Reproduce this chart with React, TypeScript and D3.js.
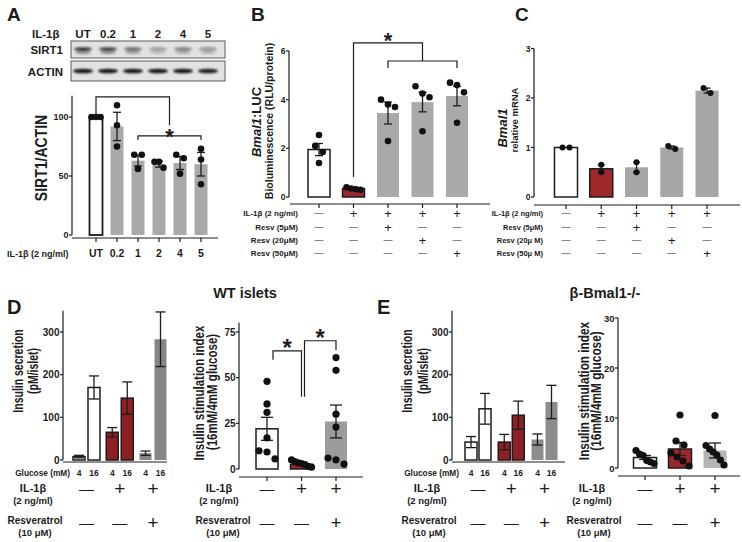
import React from "react";
import * as d3 from "d3";

const F = "'Liberation Sans', Arial, Helvetica, sans-serif";
const INK = "#1c1c1c";
const RED = "#a0282b";
const RED_D = "#8f1f22";
const GA = "#a9a9ab";
const GC = "#a6a6a9";
const GD = "#868686";
const GD2 = "#9c9c9c";
const GE = "#8c8c8c";
const GE2 = "#b4b4b4";

// ---------- Panel A ----------
const aLanes = ["UT", "0.2", "1", "2", "4", "5"];
const aMeans = [100, 92, 63, 60, 61, 60];
const aSem = [0, 12, 4.5, 2.5, 5.5, 10];
const aDots = [[100, 100, 100], [110, 93, 75], [68, 68, 56], [62, 62, 57], [68, 65, 52], [73, 64, 43]];
const aTicks = [0, 50, 100];
const aSirt1Band = [1, 0.95, 0.7, 0.42, 0.58, 0.48];
const aActinBand = [1, 1, 1, 1, 1, 0.97];

// ---------- Panel B ----------
const bGroups = ["b1", "b2", "b3", "b4", "b5"];
const bMeans = [1.95, 0.35, 3.45, 3.9, 4.15];
const bSem = [0.25, 0.05, 0.45, 0.4, 0.4];
const bDots = [[2.55, 2.1, 1.85, 1.4], [0.3, 0.35, 0.4, 0.32], [3.8, 4.0, 3.7, 2.3], [4.55, 4.25, 4.1, 2.7], [4.7, 4.6, 4.3, 3.05]];
const bTicks = [0, 2, 4, 6];
const bRowLabels = ["IL-1β (2 ng/ml)", "Resv (5μM)", "Resv (20μM)", "Resv (50μM)"];
const condMatrix = [[0, 1, 1, 1, 1], [0, 0, 1, 0, 0], [0, 0, 0, 1, 0], [0, 0, 0, 0, 1]];

// ---------- Panel C ----------
const cMeans = [1.0, 0.57, 0.6, 1.0, 2.15];
const cSem = [0, 0.08, 0.1, 0.03, 0.05];
const cDots = [[1, 1], [0.5, 0.65], [0.5, 0.7], [0.97, 1.03], [2.1, 2.2]];
const cTicks = [0, 1, 2, 3];
const cRowLabels = ["IL-1β (2 ng/ml)", "Resv (5μM)", "Resv (20μ M)", "Resv (50μ M)"];

// ---------- Panels D / E ----------
const treatGroups = ["ctrl", "il1b", "il1bResv"];
const glucose = ["4", "16"];
const il1bRow = [0, 1, 1];
const resvRow = [0, 0, 1];
const secTicks = [0, 100, 200, 300];
const dSecMeans = [8, 170, 65, 145, 16, 283];
const dSecSem = [3, 27, 11, 38, 5, 64];
const eSecMeans = [42, 120, 42, 105, 48, 136];
const eSecSem = [13, 36, 18, 33, 13, 39];
const dSiMeans = [22, 2.5, 26];
const dSiSem = [6.3, 0.6, 9];
const dSiDots = [[48, 35.6, 31, 17, 10, 9.3, 5.5], [5, 4, 3.4, 3, 2.4, 1.5, 1], [61, 54, 30, 23, 6, 5, 2.7]];
const dSiTicks = [0, 25, 50, 75];
const eSiMeans = [2.1, 3.8, 3.5];
const eSiSem = [0.4, 1.3, 1.5];
const eSiDots = [[3.5, 2.8, 2.5, 1.5, 1.2, 0.9], [10.6, 5.4, 4.6, 3, 2.2, 1.4, 0.4], [10.5, 4.5, 3.8, 3.2, 2.6, 1.6, 0.6]];
const eSiTicks = [0, 10, 20, 30];

type Sc = d3.ScaleLinear<number, number>;

function swarm(vals: number[], y: Sc, minD: number, spread: number) {
  const idx = vals.map((_, i) => i).sort((a, b) => vals[b] - vals[a]);
  const rows: number[][] = [];
  let cur: number[] = [];
  idx.forEach((i, k) => {
    if (k === 0) { cur = [i]; return; }
    const prev = cur[cur.length - 1];
    if (Math.abs(y(vals[i]) - y(vals[prev])) < minD) cur.push(i);
    else { rows.push(cur); cur = [i]; }
  });
  if (cur.length) rows.push(cur);
  const dx = new Array(vals.length).fill(0);
  rows.forEach(row => {
    const k = row.length;
    const s = k > 1 ? Math.min(minD, spread / (k - 1)) : 0;
    row.forEach((i, j) => { dx[i] = (j - (k - 1) / 2) * s; });
  });
  return dx;
}

function VText({ x, y, size, sx = 1, weight = 700, children }: any) {
  return (
    <text transform={`translate(${x},${y}) rotate(-90) scale(1,${sx})`} textAnchor="middle"
      dominantBaseline="central" fontSize={size} fontWeight={weight} fill={INK}>{children}</text>
  );
}

function YAxis({ x, y, ticks, top, fs, tl = 3 }: any) {
  return (
    <g>
      <line x1={x} x2={x} y1={y(0)} y2={y(top)} stroke={INK} strokeWidth={1.2} />
      {ticks.map((t: number) => (
        <g key={t}>
          <line x1={x - tl} x2={x} y1={y(t)} y2={y(t)} stroke={INK} strokeWidth={1.2} />
          <text x={x - tl - 0.5} y={y(t)} textAnchor="end" dominantBaseline="central" fontSize={fs} fontWeight={700} fill={INK}>{t}</text>
        </g>
      ))}
    </g>
  );
}

function Bars({ xs, means, sems, fills, strokes, w, y, cap, sw = 1.5 }: any) {
  return (
    <g>
      {xs.map((cx: number, i: number) => (
        <rect key={"r" + i} x={cx - w / 2} y={y(means[i])} width={w} height={y(0) - y(means[i])}
          fill={fills[i]} stroke={strokes[i]} strokeWidth={strokes[i] === "none" ? 0 : sw} />
      ))}
      {xs.map((cx: number, i: number) => sems[i] > 0 ? (
        <g key={"e" + i} stroke={INK} strokeWidth={1.3}>
          <line x1={cx} x2={cx} y1={y(means[i] - sems[i])} y2={y(means[i] + sems[i])} />
          <line x1={cx - cap / 2} x2={cx + cap / 2} y1={y(means[i] - sems[i])} y2={y(means[i] - sems[i])} />
          <line x1={cx - cap / 2} x2={cx + cap / 2} y1={y(means[i] + sems[i])} y2={y(means[i] + sems[i])} />
        </g>
      ) : null)}
    </g>
  );
}

function Dots({ xs, dots, y, r, minD, spread }: any) {
  return (
    <g>
      {xs.map((cx: number, i: number) => {
        const dx = swarm(dots[i], y, minD, spread);
        return dots[i].map((v: number, j: number) => (
          <circle key={i + "-" + j} cx={cx + dx[j]} cy={y(v)} r={r} fill="#111" />
        ));
      })}
    </g>
  );
}

function Sym({ x, y, on, dash, plus }: any) {
  return on ? (
    <text x={x} y={y} textAnchor="middle" dominantBaseline="central" fontSize={plus} fontWeight={400} fill={INK}>+</text>
  ) : (
    <text x={x} y={y} textAnchor="middle" dominantBaseline="central" fontSize={dash} fontWeight={400} fill={INK}>—</text>
  );
}

function Star({ x, cy, size }: any) {
  return <text x={x} y={cy + size * 0.57} textAnchor="middle" fontSize={size} fontWeight={700} fill={INK}>*</text>;
}

export default function App() {
  // ---- A ----
  const xA = d3.scalePoint<string>().domain(aLanes).range([96, 201]);
  const laneA = d3.scalePoint<string>().domain(aLanes).range([83, 208]);
  const yA = d3.scaleLinear().domain([0, 100]).range([235, 117]);
  const xsA = aLanes.map(l => xA(l) as number);

  // ---- B ----
  const xB = d3.scalePoint<string>().domain(bGroups).range([319, 457]);
  const yB = d3.scaleLinear().domain([0, 6]).range([197, 51]);
  const xsB = bGroups.map(g => xB(g) as number);

  // ---- C ----
  const xC = d3.scalePoint<string>().domain(bGroups).range([566, 707]);
  const yC = d3.scaleLinear().domain([0, 3]).range([197, 48.5]);
  const xsC = bGroups.map(g => xC(g) as number);
  const rowYs = [213, 227, 240, 253];

  // ---- D ----
  const gD = d3.scalePoint<string>().domain(treatGroups).range([86.5, 153]);
  const gcD = treatGroups.map(g => gD(g) as number);
  const xsDs = gcD.flatMap(c => glucose.map((_, k) => c + (k === 0 ? -7.5 : 7.5)));
  const ySec = d3.scaleLinear().domain([0, 300]).range([460, 332]);
  const xDsi = d3.scalePoint<string>().domain(treatGroups).range([267, 336]);
  const xsDsi = treatGroups.map(g => xDsi(g) as number);
  const yDsi = d3.scaleLinear().domain([0, 75]).range([469, 332]);

  // ---- E ----
  const gE = d3.scalePoint<string>().domain(treatGroups).range([478, 544.5]);
  const gcE = treatGroups.map(g => gE(g) as number);
  const xsEs = gcE.flatMap(c => glucose.map((_, k) => c + (k === 0 ? -7 : 7)));
  const xEsi = d3.scalePoint<string>().domain(treatGroups).range([645, 715]);
  const xsEsi = treatGroups.map(g => xEsi(g) as number);
  const yEsi = d3.scaleLinear().domain([0, 30]).range([468, 318]);

  const TreatRows = ({ xs, lx, rx, dash, plus }: any) => (
    <g>
      <text x={lx} y={492} textAnchor="middle" fontSize={11} fontWeight={700} fill={INK}>IL-1β</text>
      <text x={lx} y={504} textAnchor="middle" fontSize={9.5} fontWeight={700} fill={INK}>(2 ng/ml)</text>
      <text x={rx} y={524} textAnchor="middle" fontSize={10} fontWeight={700} fill={INK}>Resveratrol</text>
      <text x={rx} y={536} textAnchor="middle" fontSize={9.5} fontWeight={700} fill={INK}>(10 μM)</text>
      {xs.map((x: number, i: number) => <Sym key={"i" + i} x={x} y={488} on={il1bRow[i]} dash={dash} plus={plus} />)}
      {xs.map((x: number, i: number) => <Sym key={"r" + i} x={x} y={522} on={resvRow[i]} dash={dash} plus={plus} />)}
    </g>
  );

  return (
    <div style={{ position: "absolute", left: 0, top: 0, width: 742, height: 542, background: "#fff" }}>
      <svg width={742} height={542} fontFamily={F} style={{ display: "block" }}>
        <defs>
          <filter id="blur" x="-50%" y="-50%" width="200%" height="200%">
            <feGaussianBlur stdDeviation="0.8" />
          </filter>
        </defs>
        <rect width={742} height={542} fill="#fff" />

        {/* ================= Panel A ================= */}
        <text x={7} y={21} fontSize={19} fontWeight={700} fill={INK}>A</text>
        <text x={32} y={38} fontSize={11.5} fontWeight={700} fill={INK}>IL-1β</text>
        {aLanes.map(l => (
          <text key={l} x={laneA(l)} y={38} textAnchor="middle" fontSize={11.5} fontWeight={700} fill={INK}>{l}</text>
        ))}
        <text x={63} y={54} textAnchor="end" fontSize={11.5} fontWeight={700} fill={INK}>SIRT1</text>
        <text x={63} y={76} textAnchor="end" fontSize={11.5} fontWeight={700} fill={INK}>ACTIN</text>
        <rect x={71} y={41} width={154} height={17} fill="#e2e2e2" stroke="#5a5a5a" strokeWidth={1} />
        <rect x={71} y={61} width={154} height={20} fill="#e2e2e2" stroke="#5a5a5a" strokeWidth={1} />
        <g filter="url(#blur)">
          {aLanes.map((l, i) => (
            <g key={l}>
              <ellipse cx={laneA(l)} cy={49} rx={9} ry={1.8} fill="#111" opacity={aSirt1Band[i] * 0.85} />
              <ellipse cx={laneA(l)} cy={52.5} rx={8} ry={1.4} fill="#111" opacity={aSirt1Band[i] * 0.45} />
              <ellipse cx={laneA(l)} cy={71} rx={10} ry={2.3} fill="#0e0e0e" opacity={aActinBand[i] * 0.95} />
            </g>
          ))}
        </g>

        <VText x={42} y={158} size={14} sx={1.12}>SIRT1/ACTIN</VText>
        <YAxis x={72} y={yA} ticks={aTicks} top={118} fs={9} />
        <line x1={72} x2={218} y1={238} y2={238} stroke={INK} strokeWidth={1.2} />
        {xsA.map((x, i) => <line key={i} x1={x} x2={x} y1={238} y2={242} stroke={INK} strokeWidth={1.2} />)}
        <Bars xs={xsA} means={aMeans} sems={aSem} fills={["#fff", GA, GA, GA, GA, GA]}
          strokes={[INK, "none", "none", "none", "none", "none"]} w={13} y={yA} cap={8} sw={1.8} />
        <Dots xs={xsA} dots={aDots} y={yA} r={3.3} minD={7.5} spread={9} />
        {aLanes.map((l, i) => (
          <text key={l} x={xsA[i]} y={257} textAnchor="middle" fontSize={10.5} fontWeight={700} fill={INK}>{l}</text>
        ))}
        <text x={7} y={257} fontSize={9} fontWeight={700} fill={INK}>IL-1β (2 ng/ml)</text>
        <path d={`M${xsA[0]},${yA(100)}V${yA(117)}H${(xsA[2] + xsA[5]) / 2}V${yA(93)}`} fill="none" stroke={INK} strokeWidth={1.2} />
        <path d={`M${xsA[2]},${yA(80.5)}V${yA(84)}H${xsA[5]}V${yA(80.5)}`} fill="none" stroke={INK} strokeWidth={1.2} />
        <Star x={(xsA[2] + xsA[5]) / 2} cy={131} size={22} />

        {/* ================= Panel B ================= */}
        <text x={251} y={21} fontSize={19} fontWeight={700} fill={INK}>B</text>
        <VText x={256} y={122} size={13}><tspan fontStyle="italic">Bmal1</tspan>:LUC</VText>
        <VText x={269} y={121} size={10.5}>Bioluminescence (RLU/protein)</VText>
        <YAxis x={289} y={yB} ticks={bTicks} top={6} fs={8.5} />
        <line x1={290} x2={490} y1={204} y2={204} stroke={INK} strokeWidth={1.2} />
        {xsB.map((x, i) => <line key={i} x1={x} x2={x} y1={204} y2={208} stroke={INK} strokeWidth={1.2} />)}
        <Bars xs={xsB} means={bMeans} sems={bSem} fills={["#fff", RED, GA, GA, GA]}
          strokes={[INK, INK, "none", "none", "none"]} w={22} y={yB} cap={8} />
        <Dots xs={xsB} dots={bDots} y={yB} r={3.3} minD={7.5} spread={14} />
        {bRowLabels.map((lab, r) => (
          <g key={lab}>
            <text x={298} y={rowYs[r]} textAnchor="end" dominantBaseline="central" fontSize={8} fontWeight={700} fill={INK}>{lab}</text>
            {xsB.map((x, i) => <Sym key={i} x={x} y={rowYs[r]} on={condMatrix[r][i]} dash={9} plus={13} />)}
          </g>
        ))}
        <path d={`M${xsB[1]},${yB(0.82)}V${yB(6.33)}H${xsB[3]}V${yB(5.59)}`} fill="none" stroke={INK} strokeWidth={1.2} />
        <path d={`M${xsB[2]},${yB(5.3)}V${yB(5.59)}H${xsB[4]}V${yB(5.3)}`} fill="none" stroke={INK} strokeWidth={1.2} />
        <Star x={(xsB[1] + xsB[3]) / 2} cy={35} size={22} />

        {/* ================= Panel C ================= */}
        <text x={515} y={21} fontSize={19} fontWeight={700} fill={INK}>C</text>
        <VText x={502} y={128} size={13}><tspan fontStyle="italic">Bmal1</tspan></VText>
        <VText x={514} y={120} size={9.5}>relative mRNA</VText>
        <YAxis x={534} y={yC} ticks={cTicks} top={3} fs={8.5} />
        <line x1={534} x2={740} y1={205} y2={205} stroke={INK} strokeWidth={1.2} />
        {xsC.map((x, i) => <line key={i} x1={x} x2={x} y1={205} y2={209} stroke={INK} strokeWidth={1.2} />)}
        <Bars xs={xsC} means={cMeans} sems={cSem} fills={["#fff", RED, GC, GC, GC]}
          strokes={[INK, INK, "none", "none", "none"]} w={23} y={yC} cap={7} />
        <Dots xs={xsC} dots={cDots} y={yC} r={3} minD={7} spread={9} />
        {cRowLabels.map((lab, r) => (
          <g key={lab}>
            <text x={543} y={rowYs[r]} textAnchor="end" dominantBaseline="central" fontSize={7.5} fontWeight={700} fill={INK}>{lab}</text>
            {xsC.map((x, i) => <Sym key={i} x={x} y={rowYs[r]} on={condMatrix[r][i]} dash={9} plus={13} />)}
          </g>
        ))}

        {/* ================= Panel D ================= */}
        <text x={7} y={314} fontSize={20} fontWeight={700} fill={INK}>D</text>
        <text x={245} y={298} textAnchor="middle" fontSize={14.5} fontWeight={700} fill={INK}>WT islets</text>
        <VText x={17.5} y={371} size={10.5} sx={1.45}>Insulin secretion</VText>
        <VText x={33} y={371} size={10.5} sx={1.45}>(pM/islet)</VText>
        <YAxis x={63} y={ySec} ticks={secTicks} top={350} fs={10} />
        <line x1={63} x2={167} y1={462} y2={462} stroke={INK} strokeWidth={1.2} />
        <Bars xs={xsDs} means={dSecMeans} sems={dSecSem} fills={["#fff", "#fff", RED_D, RED_D, GD, GD]}
          strokes={[INK, INK, INK, INK, "none", "none"]} w={12} y={ySec} cap={10} />
        <text x={70} y={476} textAnchor="end" fontSize={8.3} fontWeight={700} fill={INK}>Glucose (mM)</text>
        {xsDs.map((x, i) => (
          <text key={i} x={x} y={476} textAnchor="middle" fontSize={8.5} fontWeight={700} fill={INK}>{glucose[i % 2]}</text>
        ))}
        <TreatRows xs={gcD} lx={33} rx={35} dash={15} plus={19} />

        <VText x={199} y={393} size={11.5} sx={1.35}>Insulin stimulation index</VText>
        <VText x={212} y={392} size={11.5} sx={1.35}>(16mM/4mM glucose)</VText>
        <YAxis x={239} y={yDsi} ticks={dSiTicks} top={80} fs={10} />
        <line x1={239} x2={363} y1={477} y2={477} stroke={INK} strokeWidth={1.2} />
        {xsDsi.map((x, i) => <line key={i} x1={x} x2={x} y1={477} y2={481} stroke={INK} strokeWidth={1.2} />)}
        <Bars xs={xsDsi} means={dSiMeans} sems={dSiSem} fills={["#fff", RED, GD2]}
          strokes={[INK, INK, "none"]} w={22} y={yDsi} cap={12} />
        <Dots xs={xsDsi} dots={dSiDots} y={yDsi} r={3.6} minD={8} spread={20} />
        <TreatRows xs={xsDsi} lx={219} rx={223} dash={15} plus={19} />
        <path d={`M${xsDsi[0] + 6},${yDsi(59.8)}V${yDsi(64.7)}H${xsDsi[1]}V${yDsi(39.5)}`} fill="none" stroke={INK} strokeWidth={1.2} />
        <path d={`M${xsDsi[1] + 3},${yDsi(39.5)}V${yDsi(70.2)}H${xsDsi[2]}V${yDsi(65.2)}`} fill="none" stroke={INK} strokeWidth={1.2} />
        <Star x={(xsDsi[0] + 6 + xsDsi[1]) / 2} cy={342} size={24} />
        <Star x={(xsDsi[1] + 3 + xsDsi[2]) / 2} cy={332} size={24} />

        {/* ================= Panel E ================= */}
        <text x={377} y={314} fontSize={20} fontWeight={700} fill={INK}>E</text>
        <text x={605} y={298} textAnchor="middle" fontSize={14.5} fontWeight={700} fill={INK}>β-Bmal1-/-</text>
        <VText x={407} y={371} size={10.5} sx={1.45}>Insulin secretion</VText>
        <VText x={423} y={371} size={10.5} sx={1.45}>(pM/islet)</VText>
        <YAxis x={452} y={ySec} ticks={secTicks} top={350} fs={10} />
        <line x1={452} x2={565} y1={462} y2={462} stroke={INK} strokeWidth={1.2} />
        <Bars xs={xsEs} means={eSecMeans} sems={eSecSem} fills={["#fff", "#fff", RED_D, RED_D, GE, GE]}
          strokes={[INK, INK, INK, INK, "none", "none"]} w={12} y={ySec} cap={10} />
        <text x={459} y={476} textAnchor="end" fontSize={8.3} fontWeight={700} fill={INK}>Glucose (mM)</text>
        {xsEs.map((x, i) => (
          <text key={i} x={x} y={476} textAnchor="middle" fontSize={8.5} fontWeight={700} fill={INK}>{glucose[i % 2]}</text>
        ))}
        <TreatRows xs={gcE} lx={427} rx={429} dash={15} plus={19} />

        <VText x={584} y={391} size={11.8} sx={1.22}>Insulin stimulation index</VText>
        <VText x={596} y={391} size={11.8} sx={1.22}>(16mM/4mM glucose)</VText>
        <YAxis x={618} y={yEsi} ticks={eSiTicks} top={30} fs={9.5} />
        <line x1={618} x2={740} y1={476} y2={476} stroke={INK} strokeWidth={1.2} />
        {xsEsi.map((x, i) => <line key={i} x1={x} x2={x} y1={476} y2={480} stroke={INK} strokeWidth={1.2} />)}
        <Bars xs={xsEsi} means={eSiMeans} sems={eSiSem} fills={["#fff", RED, GE2]}
          strokes={[INK, INK, "none"]} w={23} y={yEsi} cap={12} />
        <Dots xs={xsEsi} dots={eSiDots} y={yEsi} r={3.6} minD={8} spread={18} />
        <TreatRows xs={xsEsi} lx={592} rx={594} dash={15} plus={19} />
      </svg>
    </div>
  );
}
